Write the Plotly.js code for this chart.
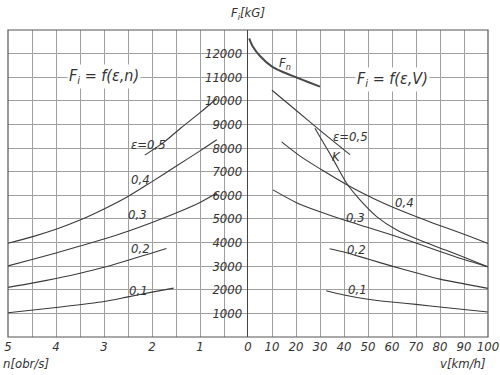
<!DOCTYPE html>
<html>
<head>
<meta charset="utf-8">
<script src="https://cdn.plot.ly/plotly-3.0.1.min.js"></script>
<style>html,body{margin:0;padding:0;background:#fff;}#chart{width:500px;height:375px;}</style>
</head>
<body>
<div id="chart"></div>
<script>
// ---- Left panel: F_i = f(eps, n), n in obr/s ----
const nEps05 = [2.15, 1.75, 1.4, 1.0, 0.65];
const fEps05n = [7700, 8250, 8850, 9500, 10100];
const nEps04 = [5, 4.5, 4, 3.5, 3, 2.5, 2, 1.5, 1, 0.65];
const fEps04n = [3970, 4240, 4560, 4950, 5420, 5950, 6580, 7230, 7880, 8350];
const nEps03 = [5, 4.5, 4, 3.5, 3, 2.5, 2, 1.5, 1, 0.65];
const fEps03n = [3010, 3280, 3560, 3850, 4150, 4480, 4850, 5250, 5700, 6100];
const nEps02 = [5, 4.5, 4, 3.5, 3, 2.5, 2, 1.7];
const fEps02n = [2100, 2280, 2480, 2700, 2950, 3250, 3560, 3750];
const nEps01 = [5, 4, 3, 2.5, 2, 1.55];
const fEps01n = [1030, 1250, 1500, 1700, 1900, 2070];

// ---- Right panel: F_i = f(eps, V), V in km/h ----
const vFn = [0.5, 2, 5, 10, 15, 20, 25, 30];
const fFn = [12650, 12300, 11900, 11450, 11200, 11000, 10800, 10600];
const vEps05 = [10, 20, 30, 42.5];
const fEps05v = [10450, 9600, 8750, 7720];
const vK = [27.9, 30.7, 35.6, 41.1, 46, 53.6, 62, 73, 84.2, 100];
const fK = [8840, 8350, 7500, 6510, 5880, 5100, 4530, 4040, 3610, 2970];
const vEps04 = [14, 21.7, 30.7, 42.5, 53.6, 64.7, 77.2, 90, 100];
const fEps04v = [8260, 7660, 7080, 6370, 5800, 5310, 4820, 4350, 3960];
const vEps03 = [10.4, 20, 30, 40, 50, 60, 70, 80, 90, 100];
const fEps03v = [6230, 5700, 5300, 4950, 4640, 4320, 3980, 3620, 3280, 2970];
const vEps02 = [34, 40, 50, 60, 70, 80, 90, 100];
const fEps02v = [3740, 3600, 3300, 3000, 2720, 2450, 2250, 2060];
const vEps01 = [32.6, 40, 50, 60, 70, 83, 100];
const fEps01v = [1960, 1780, 1600, 1480, 1380, 1240, 1060];

// ---- Tick labels ----
const nTicks = [5, 4, 3, 2, 1, 0];
const vTicks = [10, 20, 30, 40, 50, 60, 70, 80, 90, 100];
const fTicks = [1000, 2000, 3000, 4000, 5000, 6000, 7000, 8000, 9000, 10000, 11000, 12000];

const curveColor = '#3a3a3a';
function curve(x, y, xa, w, col) {
  return {x: x, y: y, xaxis: xa, yaxis: 'y', mode: 'lines', type: 'scatter',
          line: {color: col || curveColor, width: w || 1.1, shape: 'spline', smoothing: 0.8},
          hoverinfo: 'skip', showlegend: false};
}
const traces = [
  curve(nEps05, fEps05n, 'x'), curve(nEps04, fEps04n, 'x'), curve(nEps03, fEps03n, 'x'),
  curve(nEps02, fEps02n, 'x'), curve(nEps01, fEps01n, 'x'),
  curve(vFn, fFn, 'x2', 2.0, '#4a4a4a'), curve(vEps05, fEps05v, 'x2'), curve(vK, fK, 'x2'),
  curve(vEps04, fEps04v, 'x2'), curve(vEps03, fEps03v, 'x2'),
  curve(vEps02, fEps02v, 'x2'), curve(vEps01, fEps01v, 'x2')
];

const fam = 'Liberation Sans Narrow, DejaVu Sans Condensed, sans-serif';
const tickFont = {family: fam, size: 13, color: '#333', style: 'italic'};
const lblFont = {family: fam, size: 13, color: '#333', style: 'italic'};
const bigFont = {family: fam, size: 16, color: '#333', style: 'italic'};
const gridColor = '#a0a0a0';

function ann(text, x, y, xref, font, extra) {
  return Object.assign({text: text, x: x, y: y, xref: xref, yref: 'y', showarrow: false,
                        font: font || lblFont}, extra || {});
}

const layout = {
  width: 500, height: 375,
  margin: {l: 8, r: 12, t: 30, b: 38},
  paper_bgcolor: '#ffffff', plot_bgcolor: '#ffffff',
  showlegend: false,
  xaxis: {domain: [0, 0.5], range: [5, 0], anchor: 'y', tickvals: nTicks, ticktext: nTicks.map(String),
          showgrid: true, gridcolor: gridColor, gridwidth: 1,
          minor: {dtick: 0.5, tick0: 0, showgrid: true, gridcolor: gridColor, gridwidth: 1},
          zeroline: false, showline: false, ticks: '', tickfont: tickFont},
  xaxis2: {domain: [0.5, 1], range: [0, 100], anchor: 'y', tickvals: vTicks, ticktext: vTicks.map(String),
           showgrid: true, gridcolor: gridColor, gridwidth: 1,
           zeroline: false, showline: false, ticks: '', tickfont: tickFont},
  yaxis: {range: [0, 13000], anchor: 'x2', side: 'left', tickvals: fTicks, ticktext: fTicks.map(String),
          showgrid: true, gridcolor: gridColor, gridwidth: 1, zeroline: false,
          showline: true, linecolor: '#444', linewidth: 1.2, ticks: '', tickfont: tickFont, ticklabelstandoff: 2},
  shapes: [
    {type: 'rect', xref: 'paper', yref: 'paper', x0: 0, x1: 1, y0: 0, y1: 1,
     line: {color: '#555', width: 1.2}, fillcolor: 'rgba(0,0,0,0)'}
  ],
  annotations: [
    {text: 'F<sub>i</sub>[kG]', xref: 'paper', yref: 'paper', x: 0.5, y: 1, yshift: 27, showarrow: false, font: tickFont, xanchor: 'center'},
    {text: 'n[obr/s]', xref: 'paper', yref: 'paper', x: 0, y: 0, yanchor: 'top', yshift: -17, xshift: -7, xanchor: 'left', showarrow: false, font: tickFont},
    {text: 'v[km/h]', xref: 'paper', yref: 'paper', x: 1, y: 0, yanchor: 'top', yshift: -17, xanchor: 'right', showarrow: false, font: tickFont},
    ann('F<sub>i</sub> = f(ε,n)', 3.0, 11020, 'x', bigFont, {bgcolor: '#ffffff'}),
    ann('F<sub>i</sub> = f(ε,V)', 60, 10900, 'x2', bigFont, {bgcolor: '#ffffff'}),
    ann('ε=0,5', 2.08, 8140, 'x'),
    ann('0,4', 2.25, 6650, 'x'),
    ann('0,3', 2.31, 5170, 'x'),
    ann('0,2', 2.25, 3730, 'x'),
    ann('0,1', 2.29, 1990, 'x'),
    ann('F<sub>n</sub>', 15.6, 11600, 'x2'),
    ann('ε=0,5', 42.8, 8470, 'x2'),
    ann('K', 36.8, 7630, 'x2'),
    ann('0,4', 65.4, 5680, 'x2'),
    ann('0,3', 44.6, 5040, 'x2'),
    ann('0,2', 45.4, 3690, 'x2'),
    ann('0,1', 45.8, 2030, 'x2')
  ]
};

Plotly.newPlot('chart', traces, layout, {staticPlot: true, displayModeBar: false});
</script>
</body>
</html>
